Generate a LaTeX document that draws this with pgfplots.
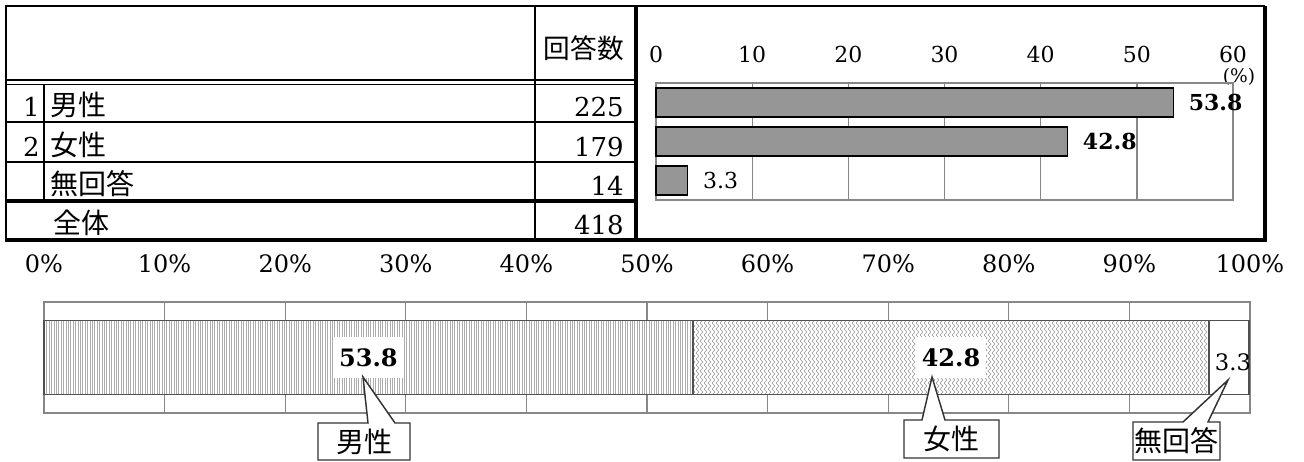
\documentclass[border=0pt]{standalone}
\usepackage{fontspec}
\usepackage{pgfplots}
\pgfplotsset{compat=1.18}
\usetikzlibrary{patterns}

\setmainfont{DejaVu Serif}
\newfontfamily\jp{Noto Sans CJK JP}
\newcommand\fs[1]{\fontsize{#1}{#1}\selectfont}

\definecolor{barfill}{RGB}{150,150,150}
\definecolor{gridc}{RGB}{135,135,135}
\definecolor{edgec}{RGB}{80,80,80}
\definecolor{hatchc}{RGB}{172,172,172}
\definecolor{wavec}{RGB}{150,150,150}

% fine vertical hatching
\pgfdeclarepatternformonly{fine vlines}{\pgfqpoint{-1pt}{-1pt}}{\pgfqpoint{2.2pt}{2.2pt}}{\pgfqpoint{1.8pt}{1.8pt}}{%
  \pgfsetlinewidth{0.5pt}%
  \pgfpathmoveto{\pgfqpoint{0.9pt}{-1pt}}%
  \pgfpathlineto{\pgfqpoint{0.9pt}{2.2pt}}%
  \pgfusepath{stroke}}
% vertical zigzag waves
\pgfdeclarepatternformonly{zigzag v}{\pgfqpoint{-0.5pt}{-0.5pt}}{\pgfqpoint{3.5pt}{5pt}}{\pgfqpoint{3pt}{4.5pt}}{%
  \pgfsetlinewidth{0.45pt}%
  \pgfpathmoveto{\pgfqpoint{0pt}{0pt}}%
  \pgfpathlineto{\pgfqpoint{2.2pt}{2.25pt}}%
  \pgfpathlineto{\pgfqpoint{0pt}{4.5pt}}%
  \pgfusepath{stroke}}

\begin{document}
\begin{tikzpicture}
% ---------------- table ----------------
\begin{scope}[x=0.75pt,y=-0.75pt]
\path[use as bounding box] (0,0) rectangle (1304,461);
\draw[line width=0.9pt] (6,122) -- (636,122) (6,162) -- (636,162);
\draw[line width=0.9pt] (44,84) -- (44,201);
\draw[line width=0.9pt] (535,6) -- (535,240);
\draw[line width=1.9pt] (6,80) -- (636,80);
\draw[line width=0.8pt] (6,84.5) -- (636,84.5);
\draw[line width=2.3pt] (6,201) -- (636,201);
\draw[line width=1.5pt] (6,240) -- (6,6) -- (1265,6);
\draw[line width=2.4pt] (1265,6) -- (1265,240) -- (5,240);
\draw[line width=2.4pt] (636,6) -- (636,240);

\begin{scope}[every node/.style={inner sep=0pt}]
\node[anchor=base east, font=\jp\fs{20}] at (624,58) {回答数};
\node[anchor=base east, font=\fs{19.5}] at (40,116) {1};
\node[anchor=base east, font=\fs{19.5}] at (40,156) {2};
\node[anchor=base west, font=\jp\fs{21}] at (50,115) {男性};
\node[anchor=base west, font=\jp\fs{21}] at (50,155) {女性};
\node[anchor=base west, font=\jp\fs{21}] at (50,194) {無回答};
\node[anchor=base west, font=\jp\fs{21}] at (53,233) {全体};
\node[anchor=base east, font=\fs{19.5}] at (624,116) {225};
\node[anchor=base east, font=\fs{19.5}] at (624,156) {179};
\node[anchor=base east, font=\fs{19.5}] at (624,195) {14};
\node[anchor=base east, font=\fs{19.5}] at (624,234) {418};
\node[font=\fs{14}] at (1239,77) {(\%)};
\end{scope}
\end{scope}

% ---------------- percentage bars ----------------
\begin{axis}[
  at={(492pt,-62.25pt)}, anchor=north west,
  width=432.75pt, height=87.75pt, scale only axis,
  xmin=0, xmax=60, ymin=0.5, ymax=3.5, y dir=reverse,
  xtick={0,10,...,60}, ytick=\empty,
  /pgf/number format/assume math mode=true,
  xticklabel pos=upper, major tick length=0pt,
  xticklabel style={font=\fs{16.5}, inner sep=0pt, anchor=south, yshift=15pt},
  xmajorgrids, grid style={gridc, line width=1pt},
  axis line style={gridc, line width=1.2pt},
  xbar, bar width=0.75,
  point meta=explicit symbolic,
  nodes near coords,
  every node near coord/.append style={anchor=west, inner sep=0pt, xshift=11pt, font=\fs{16.5}, black},
  clip=false,
]
\addplot[fill=barfill, draw=black, line width=1.1pt] coordinates {
  (53.8,1) [\textbf{53.8}]
  (42.8,2) [\textbf{42.8}]
  (3.3,3)  [3.3]
};
\end{axis}

% ---------------- 100% stacked bar ----------------
\begin{axis}[
  at={(33pt,-226.5pt)}, anchor=north west,
  width=904.5pt, height=83.25pt, scale only axis,
  xmin=0, xmax=100, ymin=0, ymax=1,
  xtick={0,10,...,100}, ytick=\empty,
  /pgf/number format/assume math mode=true,
  xticklabel pos=upper, major tick length=0pt,
  xticklabel={\pgfmathprintnumber{\tick}\%},
  xticklabel style={font=\fs{18}, inner sep=0pt, anchor=south, yshift=21.75pt},
  xmajorgrids, grid style={gridc, line width=1pt},
  axis line style={gridc, line width=1.2pt},
  xbar stacked, bar width=0.667,
  clip=false,
]
\addplot[fill=white, postaction={pattern=fine vlines, pattern color=hatchc}, draw=edgec, line width=1.1pt] coordinates {(53.8,0.5)};
\addplot[fill=white, postaction={pattern=zigzag v, pattern color=wavec}, draw=edgec, line width=1.1pt] coordinates {(42.8,0.5)};
\addplot[fill=white, draw=edgec, line width=1.1pt] coordinates {(3.3,0.5)};
\end{axis}

% ---------------- segment values and callouts ----------------
\begin{scope}[x=0.75pt,y=-0.75pt]
% segment centres: 53.8/2, 53.8+42.8/2, 96.6+3.3/2 (% of the 44..1250 px bar)
\node[fill=white, inner xsep=4pt, inner ysep=8.2pt, font=\bfseries\fs{18}] at (368.4,357.5) {53.8};
\node[fill=white, inner xsep=4pt, inner ysep=8.2pt, font=\bfseries\fs{18}] at (951,357.5) {42.8};
\node[inner sep=0pt, font=\fs{17}] at (1233,362) {3.3};

\draw[fill=white, draw=black!80, line width=1.1pt]
  (318,423) -- (368,423) -- (363,377) -- (395,423) -- (410,423) -- (410,460) -- (318,460) -- cycle;
\node[font=\jp\fs{21}] at (364,441.5) {男性};
\draw[fill=white, draw=black!80, line width=1.1pt]
  (904,420) -- (922,420) -- (932,377) -- (945,420) -- (999,420) -- (999,458) -- (904,458) -- cycle;
\node[font=\jp\fs{21}] at (951.5,439) {女性};
\draw[fill=white, draw=black!80, line width=1.1pt]
  (1133,422) -- (1183,422) -- (1228,380) -- (1208,422) -- (1220,422) -- (1220,460) -- (1133,460) -- cycle;
\node[font=\jp\fs{21}] at (1176.5,441) {無回答};
\end{scope}
\end{tikzpicture}
\end{document}
